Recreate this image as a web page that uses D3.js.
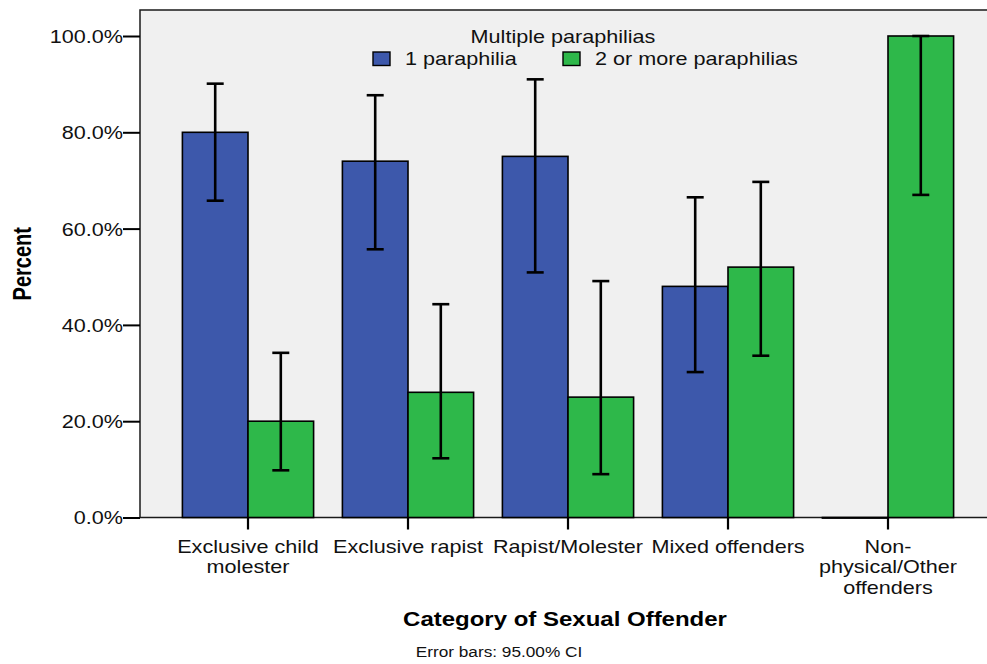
<!DOCTYPE html>
<html>
<head>
<meta charset="utf-8">
<script src="https://cdn.jsdelivr.net/npm/d3@7"></script>
<style>
  html, body { margin: 0; padding: 0; background: #fff; }
  svg { display: block; font-family: "Liberation Sans", Arial, Helvetica, sans-serif; }
</style>
</head>
<body>
<svg id="chart" width="987" height="664"></svg>
<script>
// Offender categories and their wrapped axis labels
const categories = ["Exclusive child molester", "Exclusive rapist", "Rapist/Molester", "Mixed offenders", "Non-physical/Other offenders"];
const categoryLines = [["Exclusive child", "molester"], ["Exclusive rapist"], ["Rapist/Molester"], ["Mixed offenders"], ["Non-", "physical/Other", "offenders"]];

// Series (number of paraphilias)
const series = ["1 paraphilia", "2 or more paraphilias"];
const seriesColors = ["#3d58ab", "#2eb84a"];

// Percent per category, with 95% CI bounds
const onePara      = [80.0, 74.0, 75.0, 48.0, 0.0];
const oneParaLow   = [65.8, 55.7, 50.9, 30.2, null];
const oneParaHigh  = [90.1, 87.7, 91.0, 66.5, null];
const twoPara      = [20.0, 26.0, 25.0, 52.0, 100.0];
const twoParaLow   = [9.8, 12.3, 9.0, 33.6, 67.0];
const twoParaHigh  = [34.2, 44.3, 49.1, 69.7, 100.0];

const yTicks = [0, 20, 40, 60, 80, 100];

const values = [onePara, twoPara];
const lows = [oneParaLow, twoParaLow];
const highs = [oneParaHigh, twoParaHigh];

const svg = d3.select("#chart");

const plot = { left: 140, top: 10, right: 1000, bottom: 517.5 };
const stretch = 1.2; // horizontal widening used for the chart text

const y = d3.scaleLinear().domain([0, 100]).range([plot.bottom, 36]);
const x0 = d3.scaleBand().domain(categories).range([168, 968]).paddingInner(0.18).paddingOuter(0.09);
const x1 = d3.scaleBand().domain(series).range([0, x0.bandwidth()]);

// Plot background and frame
svg.append("rect")
  .attr("x", plot.left).attr("y", plot.top)
  .attr("width", plot.right - plot.left).attr("height", plot.bottom - plot.top)
  .attr("fill", "#f0f0f0").attr("stroke", "#1a1a1a").attr("stroke-width", 1.5);

// Bars (a zero-height bar still shows its outline along the baseline)
const groups = svg.append("g").selectAll("g")
  .data(categories)
  .join("g")
  .attr("transform", d => `translate(${x0(d)},0)`);

groups.selectAll("rect")
  .data((d, i) => series.map((s, k) => ({ s, k, v: values[k][i] })))
  .join("rect")
  .attr("x", d => x1(d.s))
  .attr("y", d => y(d.v))
  .attr("width", x1.bandwidth())
  .attr("height", d => Math.max(y(0) - y(d.v), 0.6))
  .attr("fill", d => seriesColors[d.k])
  .attr("stroke", "#000")
  .attr("stroke-width", 1.6);

// Error bars (95% CI)
const capHalf = 8.5;
const eb = groups.selectAll("g.err")
  .data((d, i) => series.map((s, k) => ({ s, k, lo: lows[k][i], hi: highs[k][i] })).filter(d => d.lo != null))
  .join("g").attr("class", "err")
  .attr("stroke", "#000").attr("stroke-width", 2.6);
const cx = d => x1(d.s) + x1.bandwidth() / 2;
eb.append("line")
  .attr("x1", cx).attr("x2", cx)
  .attr("y1", d => y(d.hi)).attr("y2", d => y(d.lo));
eb.append("line")
  .attr("x1", d => cx(d) - capHalf).attr("x2", d => cx(d) + capHalf)
  .attr("y1", d => y(d.hi)).attr("y2", d => y(d.hi));
eb.append("line")
  .attr("x1", d => cx(d) - capHalf).attr("x2", d => cx(d) + capHalf)
  .attr("y1", d => y(d.lo)).attr("y2", d => y(d.lo));

// Y axis
const yAxis = svg.append("g")
  .attr("transform", `translate(${plot.left},0)`)
  .call(d3.axisLeft(y).tickValues(yTicks).tickFormat(d => d.toFixed(1) + "%").tickSize(17).tickPadding(0));
yAxis.select(".domain").remove();
yAxis.selectAll(".tick line").attr("stroke", "#000").attr("stroke-width", 2);
yAxis.selectAll(".tick text")
  .attr("x", 0).attr("dy", "0.36em")
  .attr("transform", `translate(-17,0) scale(${stretch},1)`)
  .attr("fill", "#111").attr("font-size", 18)
  .attr("font-family", "'Liberation Sans', Arial, sans-serif");

// X axis
const xAxis = svg.append("g")
  .attr("transform", `translate(0,${plot.bottom})`)
  .call(d3.axisBottom(x0).tickSize(12).tickFormat(""));
xAxis.select(".domain").remove();
xAxis.selectAll(".tick line").attr("stroke", "#000").attr("stroke-width", 2.2);
xAxis.selectAll(".tick").each(function (d, i) {
  const t = d3.select(this).append("text")
    .attr("transform", `translate(0,35) scale(${stretch},1)`)
    .attr("text-anchor", "middle")
    .attr("fill", "#111").attr("font-size", 18)
    .attr("font-family", "'Liberation Sans', Arial, sans-serif");
  categoryLines[i].forEach((ln, j) => {
    t.append("tspan").attr("x", 0).attr("y", j * 21).text(ln);
  });
});

// Axis titles
svg.append("text")
  .attr("transform", `translate(31,${(plot.top + plot.bottom) / 2}) scale(1.28,1) rotate(-90)`)
  .attr("text-anchor", "middle").attr("font-weight", "bold").attr("font-size", 20)
  .attr("fill", "#000").text("Percent");

svg.append("text")
  .attr("transform", `translate(565,626) scale(${stretch},1)`)
  .attr("text-anchor", "middle").attr("font-weight", "bold").attr("font-size", 20)
  .attr("fill", "#000").text("Category of Sexual Offender");

svg.append("text")
  .attr("transform", `translate(499,657) scale(1.23,1)`)
  .attr("text-anchor", "middle").attr("font-size", 14)
  .attr("fill", "#111").text("Error bars: 95.00% CI");

// Legend
svg.append("text")
  .attr("transform", `translate(563,43) scale(${stretch},1)`)
  .attr("text-anchor", "middle").attr("font-size", 18)
  .attr("fill", "#111").text("Multiple paraphilias");

const legend = svg.append("g").selectAll("g")
  .data(series)
  .join("g")
  .attr("transform", (d, i) => `translate(${373 + i * 190},52)`);
legend.append("rect")
  .attr("width", 17).attr("height", 13.5)
  .attr("fill", (d, i) => seriesColors[i])
  .attr("stroke", "#000").attr("stroke-width", 1.4);
legend.append("text")
  .attr("transform", `translate(32,13) scale(${stretch},1)`)
  .attr("font-size", 18).attr("fill", "#111")
  .text(d => d);
</script>
</body>
</html>
